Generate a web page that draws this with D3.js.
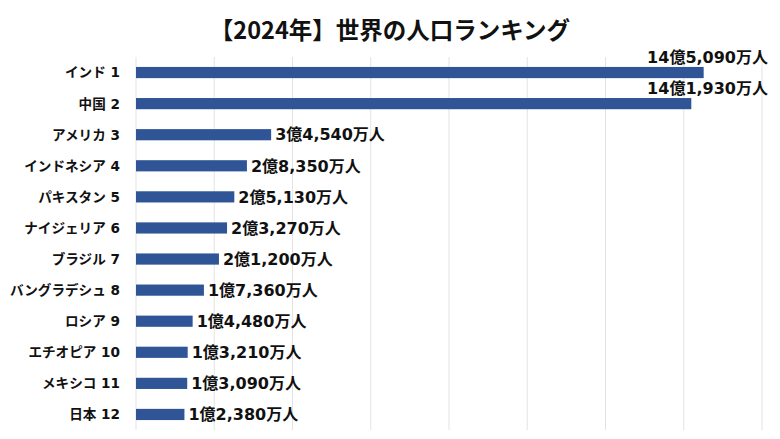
<!DOCTYPE html>
<html><head><meta charset="utf-8">
<script src="https://cdn.jsdelivr.net/npm/d3@7"></script>
<style>body{margin:0;background:#fff}svg{display:block}</style>
</head><body><svg id="c" width="780" height="439"></svg>
<script>
const categories = ["インド 1","中国 2","アメリカ 3","インドネシア 4","パキスタン 5","ナイジェリア 6","ブラジル 7","バングラデシュ 8","ロシア 9","エチオピア 10","メキシコ 11","日本 12"];
const population = [145090,141930,34540,28350,25130,23270,21200,17360,14480,13210,13090,12380]; // 万人
const xTicks = [0,20000,40000,60000,80000,100000,120000,140000,160000];
const title = "【2024年】世界の人口ランキング";

const svg = d3.select("#c");
const font = "'Noto Sans CJK JP','Noto Sans',sans-serif";
const numFont = "'DejaVu Sans','Noto Sans CJK JP',sans-serif";
const m = {l:136, r:18, t:57, b:9};
const W = 780, H = 439;
const x = d3.scaleLinear().domain([0,160000]).range([m.l, W-m.r]);
const y = d3.scaleBand().domain(categories).range([m.t, H-m.b]).paddingInner(0.64).paddingOuter(0.32);

svg.append("text").attr("x",390).attr("y",39).attr("text-anchor","middle")
  .attr("font-family",font).attr("font-weight","bold").attr("font-size",23.5).attr("fill","#111").text(title);

svg.append("g").selectAll("line").data(xTicks).join("line")
  .attr("x1",d=>x(d)).attr("x2",d=>x(d)).attr("y1",m.t).attr("y2",H-m.b)
  .attr("stroke","#e3e3e3").attr("stroke-width",1);

svg.append("g").selectAll("rect").data(population).join("rect")
  .attr("x",x(0)).attr("y",(d,i)=>y(categories[i])).attr("width",d=>x(d)-x(0)).attr("height",y.bandwidth())
  .attr("fill","#2f5597");

const fmt = v => Math.floor(v/10000)+"億"+d3.format(",")(v%10000)+"万人";
svg.append("g").selectAll("text").data(population).join("text")
  .attr("font-family",numFont).attr("font-weight","bold").attr("font-size",16).attr("fill","#111")
  .each(function(d,i){
    const t = d3.select(this);
    const above = x(d) > 640;
    if(above){
      t.attr("x",W-12).attr("text-anchor","end").attr("y",y(categories[i])-4);
    } else {
      t.attr("x",x(d)+4).attr("text-anchor","start").attr("y",y(categories[i])+y.bandwidth()/2).attr("dy","0.36em");
    }
  }).text(fmt);

svg.append("g").selectAll("text").data(categories).join("text")
  .attr("x",120).attr("y",d=>y(d)+y.bandwidth()/2).attr("dy","0.36em").attr("text-anchor","end")
  .attr("font-family",numFont).attr("font-weight","bold").attr("font-size",13.6).attr("fill","#111").text(d=>d);
</script></body></html>
